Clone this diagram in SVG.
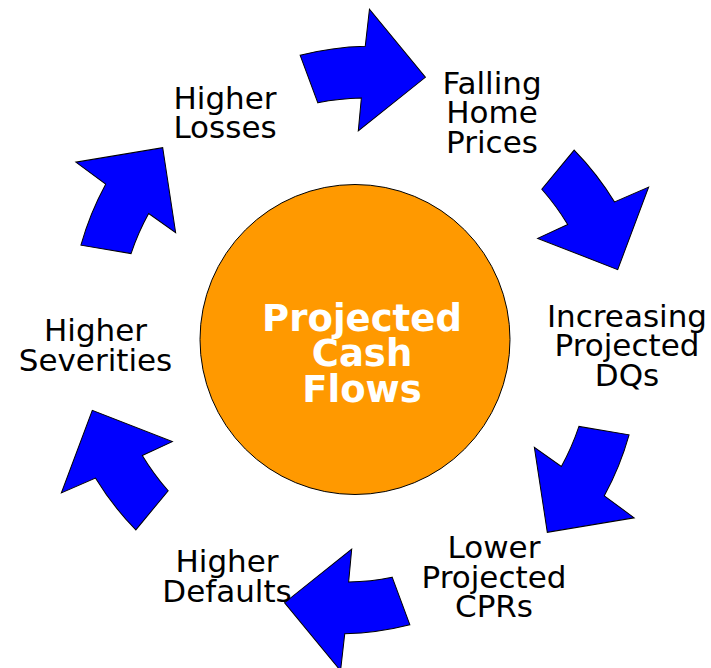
<svg xmlns="http://www.w3.org/2000/svg" width="711" height="668" viewBox="0 0 711 668">
  <defs>
    <!-- one curved block arrow, drawn at the top of the ring (centre 355,340) -->
    <path id="ring-arrow" d="M290.2,57.3 A292,292 0 0 1 355,46 L357.9,9 L416.2,75 L351,131 L352.9,98 A241,241 0 0 0 309.6,104.3 Z"/>
  </defs>
  <style>
    .arrow { fill: #0000ff; stroke: #000000; stroke-width: 1; stroke-linejoin: miter; }
    .hub { fill: #ff9900; stroke: #000000; stroke-width: 1; }
    .hub-text { font-family: "DejaVu Sans", "Liberation Sans", sans-serif; font-weight: bold; font-size: 37px; fill: #ffffff; text-anchor: middle; }
    .label { font-family: "DejaVu Sans", "Liberation Sans", sans-serif; font-size: 31px; fill: #000000; text-anchor: middle; }
  </style>
  <rect width="711" height="668" fill="#ffffff"/>

  <g id="connectors">
    <use href="#ring-arrow" class="arrow" transform="rotate(2 355 340)"/>
    <use href="#ring-arrow" class="arrow" transform="rotate(62 355 340)"/>
    <use href="#ring-arrow" class="arrow" transform="rotate(122 355 340)"/>
    <use href="#ring-arrow" class="arrow" transform="rotate(182 355 340)"/>
    <use href="#ring-arrow" class="arrow" transform="rotate(242 355 340)"/>
    <use href="#ring-arrow" class="arrow" transform="rotate(302 355 340)"/>
  </g>

  <g id="projected-cash-flows">
    <circle class="hub" cx="355" cy="339.5" r="155"/>
    <text class="hub-text" x="362" y="330.5">Projected</text>
    <text class="hub-text" x="362" y="366">Cash</text>
    <text class="hub-text" x="362" y="401.5">Flows</text>
  </g>

  <g id="falling-home-prices">
    <text class="label" x="492" y="93.5">Falling</text>
    <text class="label" x="492" y="123">Home</text>
    <text class="label" x="492" y="152.5">Prices</text>
  </g>

  <g id="increasing-projected-dqs">
    <text class="label" x="627" y="326.5">Increasing</text>
    <text class="label" x="627" y="356">Projected</text>
    <text class="label" x="627" y="385.5">DQs</text>
  </g>

  <g id="lower-projected-cprs">
    <text class="label" x="494" y="558">Lower</text>
    <text class="label" x="494" y="587.5">Projected</text>
    <text class="label" x="494" y="617">CPRs</text>
  </g>

  <g id="higher-defaults">
    <text class="label" x="227" y="571.5">Higher</text>
    <text class="label" x="227" y="601.5">Defaults</text>
  </g>

  <g id="higher-severities">
    <text class="label" x="95.5" y="341">Higher</text>
    <text class="label" x="95.5" y="370.5">Severities</text>
  </g>

  <g id="higher-losses">
    <text class="label" x="225" y="108.5">Higher</text>
    <text class="label" x="225" y="138">Losses</text>
  </g>
</svg>
